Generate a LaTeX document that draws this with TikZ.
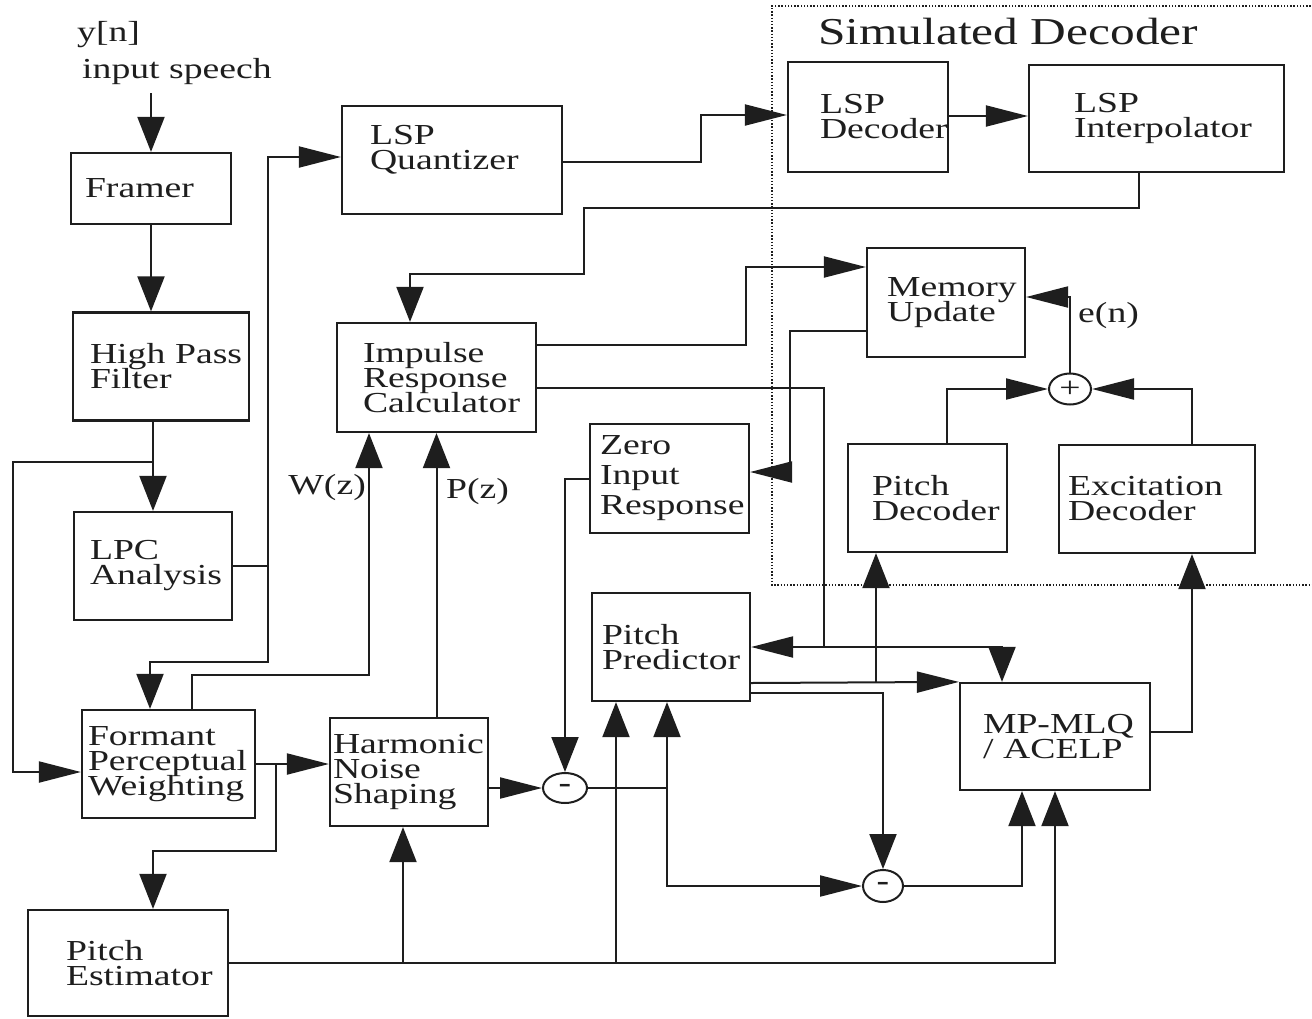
\documentclass[tikz,border=0pt]{standalone}
\usepackage{fontspec}
\setmainfont{Liberation Serif}[FakeStretch=1.3]
\usepackage{tikz}
\usetikzlibrary{arrows.meta,shapes.geometric}
\definecolor{ink}{HTML}{1E1E1E}
\newcommand{\blkfont}{\fontsize{29}{25}\selectfont\lineskiplimit=-50pt\relax\hyphenpenalty=10000\relax\exhyphenpenalty=10000\relax}
\newcommand{\loosefont}{\fontsize{29}{30}\selectfont\lineskiplimit=-50pt\relax\hyphenpenalty=10000\relax}
\newcommand{\titlefont}{\fontsize{38}{40}\selectfont}

\begin{document}
\begin{tikzpicture}[
  x=1pt, y=-1pt,
  blk/.style={draw=ink, line width=2.2pt, align=left, inner ysep=0pt,
    minimum height=108pt, font=\blkfont, text=ink},
  junc/.style={draw=ink, line width=2pt, ellipse, minimum width=42pt,
    minimum height=31pt, inner sep=0pt, font=\blkfont, text=ink},
  lbl/.style={font=\blkfont, text=ink, inner sep=0pt},
  wire/.style={draw=ink, line width=2pt},
  harr/.style={wire, -{Triangle[length=42pt,width=21pt]}},
  varr/.style={wire, -{Triangle[length=35pt,width=27pt]}},
  frame/.style={draw=ink, line width=1.3pt, dash pattern=on 1.4pt off 1.8pt}
]
\useasboundingbox (0,0) rectangle (1312,1018);

\node[blk, minimum height=71pt, inner xsep=14pt, text width=132pt] (framer) at (151,188.5) {Framer};
\node[blk, inner xsep=17pt, text width=142pt] (hpf) at (161,366.5) {High~Pass\\Filter};
\node[blk, inner xsep=16pt, text width=126pt] (lpc) at (153,566) {LPC\\Analysis};
\node[blk, inner xsep=6pt, text width=161pt] (fpw) at (168.5,764) {Formant\\Perceptual\\Weighting};
\node[blk, minimum height=106pt, inner xsep=38pt, text width=124pt] (pest) at (128,963) {Pitch\\Estimator};
\node[blk, inner xsep=28pt, text width=164pt] (lspq) at (452,160) {LSP\\Quantizer\\\mbox{}};
\node[blk, minimum height=109pt, inner xsep=26pt, text width=147pt] (irc) at (436.5,377.5) {Impulse\\Response\\Calculator};
\node[blk, inner xsep=3pt, text width=152pt] (hns) at (409,772) {Harmonic\\Noise\\Shaping};
\node[blk, minimum height=109pt, inner xsep=10pt, text width=139pt, font=\loosefont] (zir) at (669.5,478.5) {Zero\\Input\\Response};
\node[blk, inner xsep=10pt, text width=138pt] (pp) at (671,647) {Pitch\\Predictor};
\node[blk, minimum height=110pt, inner xsep=32pt, text width=96pt] (lspd) at (868,117) {LSP\\Decoder};
\node[blk, minimum height=107pt, inner xsep=45pt, text width=165pt] (lspi) at (1156.5,118.5) {LSP\\Interpolator};
\node[blk, minimum height=109pt, inner xsep=20pt, text width=118pt] (mem) at (946,302.5) {Memory\\Update};
\node[blk, inner xsep=24pt, text width=111pt] (pdec) at (927.5,498) {Pitch\\Decoder};
\node[blk, inner xsep=9pt, text width=178pt] (edec) at (1157,499) {Excitation\\Decoder};
\node[blk, minimum height=107pt, inner xsep=23pt, text width=144pt] (mp) at (1055,736.5) {MP-MLQ\\/~ACELP};

\node[junc] (sum) at (1070,389) {+};
\node[junc, minimum width=44pt, minimum height=30pt] (subA) at (565,788) {\bfseries -};
\node[junc, minimum width=40pt, minimum height=32pt] (subB) at (883,886) {\bfseries -};

\node[lbl, anchor=base west] (yn) at (77,41) {y[n]};
\node[lbl, anchor=base west] (speech) at (82,78) {input speech};
\node[lbl, anchor=base east] (wz) at (366,494) {W(z)};
\node[lbl, anchor=base west] (pz) at (446,498) {P(z)};
\node[lbl, anchor=base west] (en) at (1078,322) {e(n)};
\node[lbl, anchor=base west, font=\titlefont] (dectitle) at (818,44) {Simulated Decoder};
\draw[frame] (1330,6) -- (772,6) -- (772,585) -- (1330,585);

\coordinate (in) at (151,93);
\draw[varr] (in) -- (framer.north);
\draw[varr] (framer.south) -- (framer.south |- hpf.north);
\draw[varr] (lpc.north |- hpf.south) -- (lpc.north);
\draw[harr] ([yshift=49pt]lpc.north) -- ++(-140,0) |- ([yshift=-8pt]fpw.west);
\draw[harr] (lpc.east) -- ++(35,0) |- ([yshift=3pt]lspq.west);
\draw[varr] (lpc.east) -- ++(35,0) -- ++(0,96) -| ([xshift=-18.5pt]fpw.north);
\draw[varr] ([xshift=23.5pt]fpw.north) -- ++(0,-34) -| ([xshift=-67.5pt]irc.south);
\draw[varr] (hns.north -| irc.south) -- (irc.south);
\draw[harr] (fpw.east) -- (fpw.east -| hns.west);
\draw[varr] (fpw.east) -- ++(20,0) -- ++(0,87) -| ([xshift=25pt]pest.north);
\draw[varr] (pest.east) -| (mp.south);
\draw[varr] ([xshift=-6pt]hns.south |- pest.east) -- ([xshift=-6pt]hns.south);
\draw[varr] ([xshift=-55pt]pp.south |- pest.east) -- ([xshift=-55pt]pp.south);
\draw[harr] (hns.east |- subA.west) -- (subA.west);
\draw[varr] (zir.west) -| (subA.north);
\draw[varr] (subA.east) -| ([xshift=-4pt]pp.south);
\draw[harr] ([xshift=-4pt]pp.south |- subA.east) |- (subB.west);
\draw[harr] ([yshift=-10.5pt]irc.east) -- ++(287,0) |- (pp.east);
\draw[varr] ([yshift=-10.5pt]irc.east) -- ++(287,0) |- ([xshift=-53pt]mp.north |- pp.east) -- ([xshift=-53pt]mp.north);
\draw[harr] ([yshift=-36pt]pp.east) -- (mp.north west);
\draw[varr] ([xshift=-51.5pt]pdec.south |- mp.north west) -- ([xshift=-51.5pt]pdec.south);
\draw[varr] ([yshift=-46pt]pp.east) -| (subB.north);
\draw[varr] (subB.east) -| ([xshift=-33pt]mp.south);
\draw[varr] ([yshift=4.5pt]mp.east) -| ([xshift=35pt]edec.south);
\draw[harr] ([xshift=19.5pt]pdec.north) |- (sum.west);
\draw[harr] ([xshift=35pt]edec.north) |- (sum.east);
\draw[harr] (sum.north) |- ([yshift=5.5pt]mem.east);
\draw[harr] ([yshift=32.5pt]irc.east) -- ++(209,0) |- ([yshift=35.5pt]mem.west);
\draw[harr] ([yshift=-28.5pt]mem.west) -- ++(-76,0) |- ([yshift=6.5pt]zir.east);
\draw[harr] ([yshift=-2pt]lspq.east) -- ++(138,0) |- ([yshift=2pt]lspd.west);
\draw[harr] ([yshift=1pt]lspd.east) -- ([yshift=1pt]lspd.east -| lspi.west);
\draw[varr] ([xshift=-17.5pt]lspi.south) -- ++(0,35) -- ++(-555,0) -- ++(0,66) -| ([xshift=-26.5pt]irc.north);
\end{tikzpicture}
\end{document}
